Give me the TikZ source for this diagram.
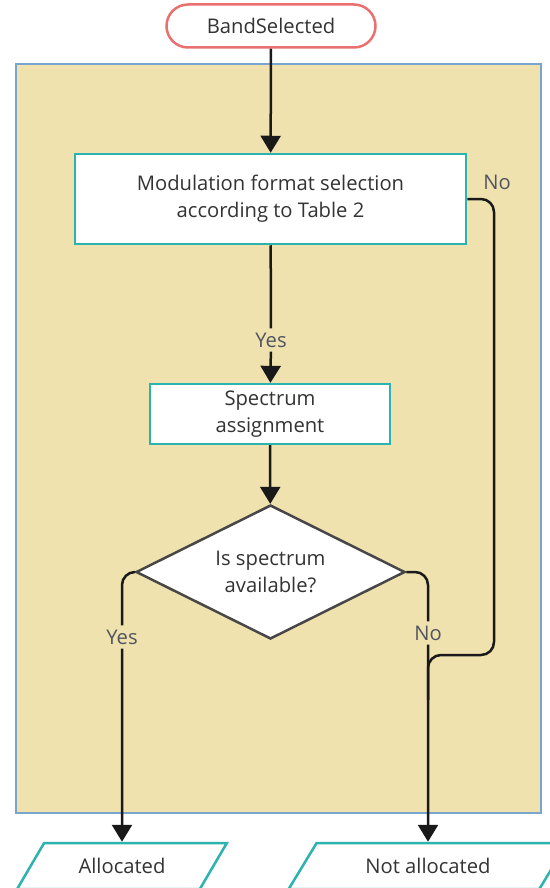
\documentclass[tikz,border=0pt]{standalone}
\usepackage{fontspec}
\setmainfont{Open Sans}
\usetikzlibrary{shapes.geometric,arrows.meta}

\definecolor{panelfill}{HTML}{EFE2AE}
\definecolor{panelline}{HTML}{78A6CE}
\definecolor{boxline}{HTML}{2CB3AF}
\definecolor{startline}{HTML}{EA7070}
\definecolor{textcol}{HTML}{333333}
\definecolor{labelcol}{HTML}{50555F}

\tikzset{
  process/.style={rectangle,draw=boxline,line width=1.25pt,fill=white,align=center},
  decision/.style={diamond,draw=textcol!90,line width=1.25pt,fill=white,align=center,aspect=2,inner sep=0pt},
  terminal/.style={rectangle,rounded corners=10.75pt,draw=startline,line width=1.25pt,fill=white},
  outcome/.style={trapezium,trapezium left angle=59,trapezium right angle=121,
    trapezium stretches=true,draw=boxline,line width=1.25pt,fill=white,minimum height=23pt},
  branch/.style={text=labelcol,inner sep=2pt}
}

\begin{document}
\begin{tikzpicture}[x=0.5pt,y=-0.5pt,font=\fontsize{10.1}{13.5}\selectfont,text=textcol,
    >={Triangle[length=8.5pt,width=10pt]}]
  \useasboundingbox (0,0) rectangle (550,888);
  \clip (0,0) rectangle (550,888);
  \fill[white] (0,0) rectangle (550,888);
  \draw[fill=panelfill,draw=panelline,line width=1pt] (16,64) rectangle (541,813);

  \node[terminal,minimum width=104.5pt,minimum height=21.5pt] (start) at (271,26) {BandSelected};
  \node[process,minimum width=195.5pt,minimum height=45pt] (modsel) at (270.5,199)
    {Modulation format selection\\according to Table 2};
  \node[process,minimum width=120pt,minimum height=29pt] (specassign) at (270,414)
    {Spectrum\\assignment};
  \node[decision,minimum width=134.5pt,minimum height=67pt] (avail) at (270.5,572)
    {Is spectrum\\available?};
  \node[outcome,minimum width=105pt] (alloc) at (122,866) {Allocated};
  \node[outcome,minimum width=140pt] (notalloc) at (428,866) {Not allocated};

  \node[branch] (yesmod) at (271,340) {Yes};
  \node[branch] (nomod) at (497,182) {No};
  \node[branch] (yesavail) at (122,637) {Yes};
  \node[branch] (noavail) at (428,633) {No};

  \coordinate (bend) at (494,655);
  \coordinate (merge) at (428,700);

  \begin{scope}[every edge/.style={draw,line width=1.25pt,black!90}]
    \path (start) edge[->] (modsel);
    \path (modsel) edge (yesmod);
    \path (yesmod) edge[->] (specassign);
    \path (specassign) edge[->] (avail);
    \path (yesavail) edge[->] (alloc);
    \path (noavail) edge[->] (notalloc);
  \end{scope}
  \begin{scope}[line width=1.25pt,black!90,rounded corners=6.5pt]
    \draw (avail.west) -| (yesavail.north);
    \draw (avail.east) -| (noavail.north);
    \draw (modsel.east) -| (bend) -| (merge);
  \end{scope}
\end{tikzpicture}
\end{document}
